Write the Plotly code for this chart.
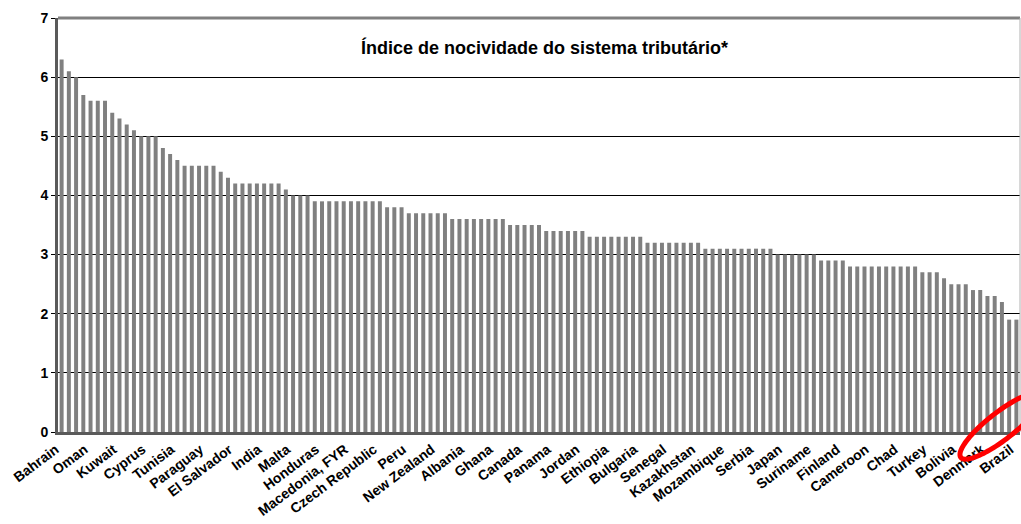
import numpy as np
import plotly.graph_objects as go

# ---- data ----
values = [
    6.3, 6.1, 6.0, 5.7, 5.6, 5.6, 5.6, 5.4, 5.3, 5.2,
    5.1, 5.0, 5.0, 5.0, 4.8, 4.7, 4.6, 4.5, 4.5, 4.5,
    4.5, 4.5, 4.4, 4.3, 4.2, 4.2, 4.2, 4.2, 4.2, 4.2,
    4.2, 4.1, 4.0, 4.0, 4.0, 3.9, 3.9, 3.9, 3.9, 3.9,
    3.9, 3.9, 3.9, 3.9, 3.9, 3.8, 3.8, 3.8, 3.7, 3.7,
    3.7, 3.7, 3.7, 3.7, 3.6, 3.6, 3.6, 3.6, 3.6, 3.6,
    3.6, 3.6, 3.5, 3.5, 3.5, 3.5, 3.5, 3.4, 3.4, 3.4,
    3.4, 3.4, 3.4, 3.3, 3.3, 3.3, 3.3, 3.3, 3.3, 3.3,
    3.3, 3.2, 3.2, 3.2, 3.2, 3.2, 3.2, 3.2, 3.2, 3.1,
    3.1, 3.1, 3.1, 3.1, 3.1, 3.1, 3.1, 3.1, 3.1, 3.0,
    3.0, 3.0, 3.0, 3.0, 3.0, 2.9, 2.9, 2.9, 2.9, 2.8,
    2.8, 2.8, 2.8, 2.8, 2.8, 2.8, 2.8, 2.8, 2.8, 2.7,
    2.7, 2.7, 2.6, 2.5, 2.5, 2.5, 2.4, 2.4, 2.3, 2.3,
    2.2, 1.9, 1.9,
]

labelled_countries = [
    "Bahrain", "Oman", "Kuwait", "Cyprus", "Tunisia", "Paraguay", "El Salvador",
    "India", "Malta", "Honduras", "Macedonia, FYR", "Czech Republic", "Peru",
    "New Zealand", "Albania", "Ghana", "Canada", "Panama", "Jordan", "Ethiopia",
    "Bulgaria", "Senegal", "Kazakhstan", "Mozambique", "Serbia", "Japan",
    "Suriname", "Finland", "Cameroon", "Chad", "Turkey", "Bolivia", "Denmark",
    "Brazil",
]
label_every = 4
y_ticks = [0, 1, 2, 3, 4, 5, 6, 7]

title_text = "Índice de nocividade do sistema tributário*"

# ---- figure ----
W, H = 1021, 524
ML, MR, MT, MB = 58, 1, 18, 92

positions = list(range(len(values)))
tick_positions = [i * label_every for i in range(len(labelled_countries))]

fig = go.Figure()
fig.add_trace(go.Bar(
    x=positions, y=values,
    marker=dict(color="#808080", line=dict(width=0)),
    hoverinfo="y",
))

FONT = "Liberation Sans, Arial, sans-serif"

fig.update_layout(
    width=W, height=H,
    margin=dict(l=ML, r=MR, t=MT, b=MB, autoexpand=False),
    paper_bgcolor="white", plot_bgcolor="white",
    bargap=0.45,
    showlegend=False,
    font=dict(family=FONT, color="black"),
    xaxis=dict(
        range=[-0.5, len(values) - 0.5],
        tickmode="array", tickvals=tick_positions, ticktext=labelled_countries,
        tickangle=-37,
        tickfont=dict(family=FONT, size=14, color="black", weight="bold"),
        ticklabeloverflow="allow",
        ticklabelstandoff=1, ticklabelshift=-6,
        showgrid=False, zeroline=False,
        showline=True, linecolor="#5a5a5a", linewidth=3,
        ticks="", automargin=False,
    ),
    yaxis=dict(
        range=[0, 7], tickmode="array", tickvals=y_ticks,
        tickfont=dict(family=FONT, size=14, color="black", weight="bold"),
        showgrid=True, gridcolor="black", gridwidth=1,
        zeroline=False,
        showline=True, linecolor="#5a5a5a", linewidth=3,
        ticks="outside", ticklen=4, tickcolor="black", tickwidth=1,
        automargin=False,
    ),
    annotations=[dict(
        text="<b>" + title_text + "</b>",
        xref="paper", yref="paper", x=0.506, y=0.928,
        xanchor="center", yanchor="middle", showarrow=False,
        font=dict(family=FONT, size=18, color="black"),
    )],
)

# plot-area frame (top thick grey, right thin grey)
shapes = [
    dict(type="line", xref="paper", yref="paper", x0=0, x1=1, y0=1, y1=1,
         line=dict(color="#808080", width=3)),
    dict(type="line", xref="paper", yref="paper", x0=1, x1=1, y0=0, y1=1,
         line=dict(color="#b0b0b0", width=1)),
]

# red hand-drawn ellipse highlight (decoration, in pixel space -> paper)
pw = W - ML - MR
ph = H - MT - MB
cx, cy, a, b, ang = 1001.0, 426.0, 51.0, 13.5, np.deg2rad(38)
t = np.linspace(0, 2 * np.pi, 120)
px = cx + a * np.cos(t) * np.cos(ang) - b * np.sin(t) * np.sin(ang)
py = cy - (a * np.cos(t) * np.sin(ang) + b * np.sin(t) * np.cos(ang))
ux = (px - ML) / pw
uy = (H - MB - py) / ph
path = "M " + " L ".join(f"{u:.5f},{v:.5f}" for u, v in zip(ux, uy)) + " Z"
shapes.append(dict(type="path", xref="paper", yref="paper", path=path,
                   line=dict(color="#ff0000", width=5)))

fig.update_layout(shapes=shapes)

fig.write_html(
    "out.html",
    config={"displayModeBar": False},
    post_script="document.body.style.margin='0px';document.body.style.padding='0px';document.body.style.overflow='hidden';",
)
